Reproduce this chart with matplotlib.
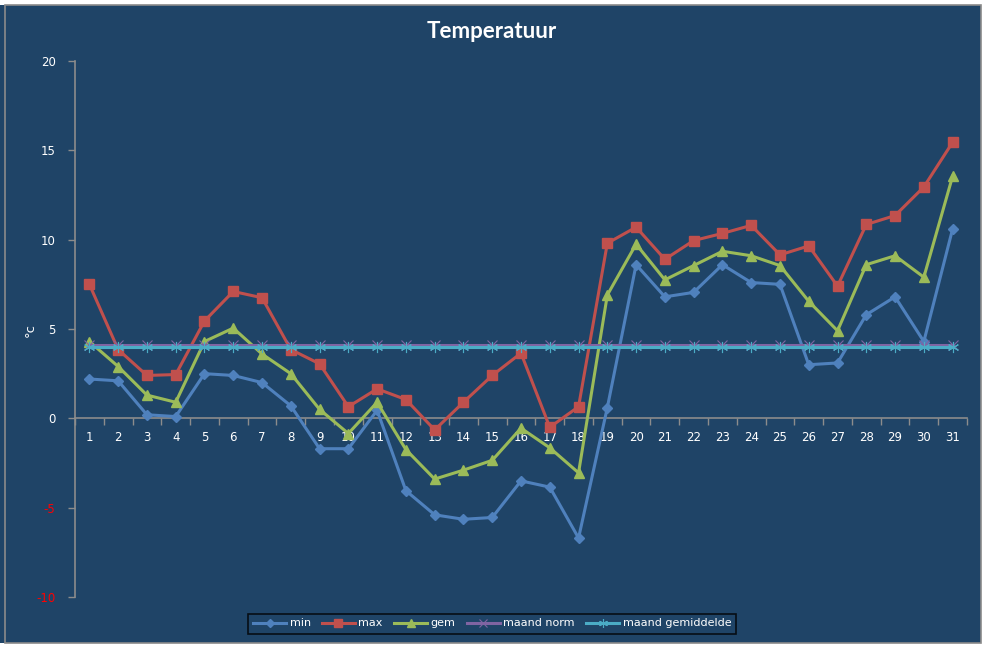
import matplotlib
matplotlib.use("Agg")
import matplotlib.pyplot as plt
from matplotlib.patches import Rectangle

days = list(range(1, 32))
t_min = [2.2, 2.1, 0.2, 0.1, 2.5, 2.4, 2.0, 0.7, -1.7, -1.7, 0.45, -4.05, -5.4, -5.65, -5.55,
         -3.5, -3.85, -6.7, 0.6, 8.6, 6.8, 7.05, 8.6, 7.6, 7.5, 3.0, 3.1, 5.8, 6.8, 4.3, 10.6]
t_max = [7.5, 3.85, 2.4, 2.45, 5.45, 7.1, 6.75, 3.85, 3.05, 0.65, 1.65, 1.05, -0.65, 0.9, 2.4,
         3.65, -0.5, 0.65, 9.8, 10.7, 8.9, 9.95, 10.35, 10.8, 9.15, 9.65, 7.4, 10.85, 11.35, 12.95, 15.45]
t_gem = [4.3, 2.9, 1.3, 0.9, 4.3, 5.05, 3.6, 2.5, 0.5, -0.85, 0.9, -1.75, -3.4, -2.9, -2.35,
         -0.55, -1.65, -3.05, 6.9, 9.75, 7.75, 8.55, 9.35, 9.1, 8.55, 6.55, 4.9, 8.6, 9.1, 7.9, 13.55]
maand_norm = [4.1, 4.1, 4.1, 4.1, 4.1, 4.1, 4.1, 4.1, 4.1, 4.1, 4.1, 4.1, 4.1, 4.1, 4.1,
              4.1, 4.1, 4.1, 4.1, 4.1, 4.1, 4.1, 4.1, 4.1, 4.1, 4.1, 4.1, 4.1, 4.1, 4.1, 4.1]
maand_gem = [4.0, 4.0, 4.0, 4.0, 4.0, 4.0, 4.0, 4.0, 4.0, 4.0, 4.0, 4.0, 4.0, 4.0, 4.0,
             4.0, 4.0, 4.0, 4.0, 4.0, 4.0, 4.0, 4.0, 4.0, 4.0, 4.0, 4.0, 4.0, 4.0, 4.0, 4.0]
y_ticks = [-10, -5, 0, 5, 10, 15, 20]

BG = "#1F4467"
AX = "#8C8C8C"
W, H = 987, 648

fig = plt.figure(figsize=(W / 100, H / 100), dpi=100, facecolor="white")
fig.patches.append(Rectangle((0, 5 / H), 981 / W, 638 / H, transform=fig.transFigure,
                             facecolor=BG, edgecolor="none", zorder=-3))
fig.patches.append(Rectangle((5 / W, 5 / H), 976 / W, 638 / H, transform=fig.transFigure,
                             facecolor="none", edgecolor="#8A8A8A", linewidth=1.2, zorder=-2))

ax = fig.add_axes([75 / W, (648 - 597) / H, (967 - 75) / W, (597 - 61) / H])
ax.set_facecolor("none")

lw = 2.2
ax.plot(days, t_min, color="#4F81BD", lw=lw, marker="D", ms=5, label="min", zorder=3)
ax.plot(days, t_max, color="#C0504D", lw=lw, marker="s", ms=7, label="max", zorder=3)
ax.plot(days, t_gem, color="#9BBB59", lw=lw, marker="^", ms=6.5, label="gem", zorder=3)
ax.plot(days, maand_norm, color="#8064A2", lw=lw, marker="x", ms=7, mew=0.8, label="maand norm", zorder=4)
ax.plot(days, maand_gem, color="#4BACC6", lw=lw, marker=(6, 2, 0), ms=8, mew=0.8,
        label="maand gemiddelde", zorder=5)

ax.set_xlim(0.5, 31.5)
ax.set_ylim(-10, 20)

for s in ["top", "right"]:
    ax.spines[s].set_visible(False)
ax.spines["left"].set_color(AX)
ax.spines["bottom"].set_color(AX)
ax.spines["left"].set_linewidth(1.2)
ax.spines["bottom"].set_linewidth(1.2)
ax.spines["bottom"].set_position(("data", 0))

ax.set_yticks(y_ticks)
ax.set_yticklabels([str(v) for v in y_ticks], fontsize=8.5)
ax.tick_params(axis="y", direction="out", length=5, color=AX, width=1, pad=9)
for lab, v in zip(ax.get_yticklabels(), y_ticks):
    lab.set_color("#FF0000" if v < 0 else "white")

ax.set_xticks(days)
ax.set_xticklabels([str(d) for d in days], fontsize=8.5, color="white")
ax.tick_params(axis="x", which="major", length=0, pad=9)
ax.set_xticks([d + 0.5 for d in [0] + days], minor=True)
ax.tick_params(axis="x", which="minor", direction="out", length=5, color=AX, width=1)

ax.set_ylabel("°c", color="white", fontsize=9.5)
ax.yaxis.set_label_coords(-38 / (967 - 75), (597 - 330) / (597 - 61))

fig.text(492 / W, (648 - 32) / H, "Temperatuur", ha="center", va="center",
         color="white", fontsize=16, fontweight="bold", family=["Lato", "DejaVu Sans"])

leg = ax.legend(loc="center", bbox_to_anchor=(492 / W, (648 - 623.5) / H),
                bbox_transform=fig.transFigure, ncol=5, frameon=True, fontsize=8,
                handlelength=3.0, columnspacing=1.0, handletextpad=0.3, borderpad=0.45,
                fancybox=False, markerscale=0.8)
leg.get_frame().set_facecolor(BG)
leg.get_frame().set_edgecolor("black")
leg.get_frame().set_linewidth(1.2)
for t in leg.get_texts():
    t.set_color("white")

fig.savefig("out.png", dpi=100, facecolor=fig.get_facecolor())
